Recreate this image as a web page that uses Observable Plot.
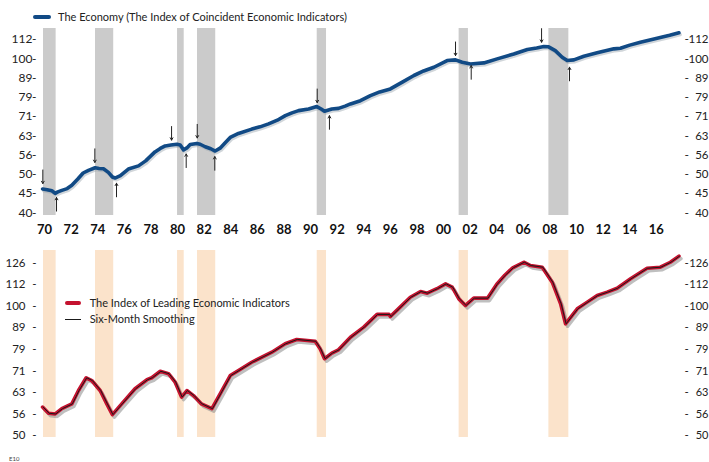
<!DOCTYPE html>
<html><head><meta charset="utf-8">
<script src="https://cdn.jsdelivr.net/npm/d3@7"></script>
<script src="https://cdn.jsdelivr.net/npm/@observablehq/plot@0.6"></script>
<style>
body{margin:0;background:#fff;}
#wrap{position:relative;width:709px;height:462px;overflow:hidden;font-family:Lato,"Open Sans",sans-serif;}
#wrap svg{position:absolute;left:0;}
.leg{position:absolute;font-size:11px;color:#222;white-space:nowrap;line-height:14px;}
.sw{position:absolute;}
</style></head><body><div id="wrap"></div>
<script>
// Recessions (start/end, decimal years)
const recStart = [1969.92, 1973.83, 1980.0, 1981.5, 1990.5, 2001.17, 2007.92];
const recEnd   = [1970.87, 1975.2, 1980.5, 1982.87, 1991.2, 2001.87, 2009.42];

// Coincident index
const coinYears = [1969.85,1970.2,1970.55,1970.8,1971.0,1971.3,1971.7,1972.05,1972.5,1972.9,1973.3,1973.8,1974.1,1974.43,1974.8,1975.1,1975.3,1975.7,1976.0,1976.3,1977.06,1977.6,1978.3,1978.7,1979.07,1979.5,1979.95,1980.2,1980.45,1980.7,1980.95,1981.45,1981.7,1982.08,1982.5,1982.83,1983.2,1983.6,1983.96,1984.58,1985.58,1986.2,1986.84,1987.5,1988.1,1988.6,1989.1,1989.85,1990.47,1990.8,1991.05,1991.6,1992.1,1992.6,1993.0,1993.75,1994.5,1995.2,1996.0,1996.9,1997.77,1998.5,1999.27,2000.27,2000.9,2001.4,2002.03,2003.03,2004.03,2005.28,2006.3,2007.0,2007.54,2007.9,2008.4,2008.92,2009.3,2009.8,2010.55,2011.55,2012.8,2013.3,2014.0,2014.8,2016.06,2017.0,2017.7];
const coinValues = [45.8,45.6,45.3,44.6,45.0,45.4,45.9,46.8,48.6,50.4,51.2,52.0,51.8,51.7,50.6,49.2,48.9,49.6,50.6,51.6,52.6,54.2,57.2,58.4,59.3,59.6,59.9,59.6,57.9,58.6,59.8,60.2,59.9,59.0,58.3,57.5,58.5,60.5,62.4,63.9,65.6,66.5,67.7,69.2,71.1,72.3,73.3,74.0,75.1,74.0,73.0,74.0,74.3,75.3,76.3,77.8,80.2,82.0,83.5,87.0,90.5,93.0,95.1,99.0,99.4,98.0,97.0,97.6,100.0,103.0,105.8,106.8,107.7,107.5,105.1,101.0,99.0,99.4,101.6,103.7,106.2,106.6,108.6,110.5,113.2,115.2,116.9];

// Leading index
const leadYears = [1969.85,1970.3,1970.8,1971.3,1972.05,1972.55,1973.13,1973.55,1974.18,1974.68,1975.1,1975.8,1976.8,1977.7,1978.06,1978.7,1979.32,1979.82,1980.3,1980.7,1981.2,1981.8,1982.58,1983.2,1983.96,1984.58,1985.58,1987.09,1988.09,1988.96,1990.35,1990.72,1991.05,1991.6,1992.1,1993.0,1994.0,1995.0,1995.9,1996.0,1996.6,1997.5,1998.27,1998.77,1999.5,2000.15,2000.65,2001.15,2001.65,2002.27,2003.3,2004.0,2004.6,2005.2,2006.03,2006.54,2007.42,2008.17,2008.8,2009.17,2010.05,2010.8,2011.55,2012.3,2013.05,2014.06,2015.3,2016.3,2017.05,2017.7];
const leadValues = [58.3,56.4,56.2,57.8,59.3,63.7,68.2,67.2,63.7,59.3,56.0,59.3,64.3,67.5,68.2,70.6,69.7,66.6,61.5,63.7,62.0,59.3,57.8,62.6,69.0,70.9,74.1,78.2,81.8,83.7,82.9,79.6,75.5,77.8,79.2,84.7,89.4,95.7,95.7,94.6,98.6,104.9,108.2,107.2,109.8,112.7,110.7,104.0,100.4,104.4,104.4,112.5,118.0,122.8,126.5,124.3,123.2,113.7,101.3,91.0,98.6,102.2,105.9,107.8,110.1,115.8,122.5,123.2,126.5,130.7];

// Peak (down arrow) and trough (up arrow) markers: year and value at arrow head
const peakYears = [1969.87, 1973.78, 1979.55, 1981.48, 1990.5, 2000.9, 2007.37];
const peakValues = [47.3, 53.7, 61.4, 62.2, 76.9, 102.0, 110.5];
const troughYears = [1970.9, 1975.41, 1980.65, 1982.8, 1991.42, 2002.08, 2009.47];
const troughValues = [43.5, 47.4, 56.5, 55.6, 71.1, 96.0, 95.1];

// Tick labels
const xTickYears = [1970,1972,1974,1976,1978,1980,1982,1984,1986,1988,1990,1992,1994,1996,1998,2000,2002,2004,2006,2008,2010,2012,2014,2016];
const xTickLabels = ["70","72","74","76","78","80","82","84","86","88","90","92","94","96","98","00","02","04","06","08","10","12","14","16"];
const topTickLabels = ["40","45","50","56","63","71","79","89","100","112"];
const bottomTickLabels = ["50","56","63","71","79","89","100","112","126"];

const coin = coinYears.map((x, i) => ({x, v: coinValues[i]}));
const lead = leadYears.map((x, i) => ({x, v: leadValues[i]}));
const recs = recStart.map((s, i) => ({s, e: recEnd[i]}));
const peaks = peakYears.map((x, i) => ({x, v: peakValues[i]}));
const troughs = troughYears.map((x, i) => ({x, v: troughValues[i]}));
const xTicks = xTickYears.map((x, i) => ({x, l: xTickLabels[i]}));
// tick positions: labels sit on steps of 2^(1/6) around 100
const topTicks = topTickLabels.map((l, i) => ({pos: 100 * Math.pow(2, (i - 8) / 6), l}));
const botTicks = bottomTickLabels.map((l, i) => ({pos: 100 * Math.pow(2, (i - 6) / 6), l}));

const W = 709;
const xDomain = [1969.695, 2017.966];
const font = "Lato, 'Open Sans', sans-serif";
const ARW = 1.085;

function yLabels(ticks, size, numPadL, numPadR) {
  return [
    Plot.text(ticks, {y: "pos", text: "l", frameAnchor: "left", dx: -numPadL, textAnchor: "end", fontSize: size, fill: "#222"}),
    Plot.text(ticks, {y: "pos", text: () => "-", frameAnchor: "left", dx: -4, textAnchor: "end", fontSize: size, fill: "#222"}),
    Plot.text(ticks, {y: "pos", text: () => "-", frameAnchor: "right", dx: 2, textAnchor: "start", fontSize: size, fill: "#222"}),
    Plot.text(ticks, {y: "pos", text: "l", frameAnchor: "right", dx: numPadR, textAnchor: "end", fontSize: size - 0.5, fill: "#222"})
  ];
}

const topPlot = Plot.plot({
  width: W, height: 245,
  marginTop: 28, marginBottom: 30, marginLeft: 40, marginRight: 27,
  style: {fontFamily: font, fontSize: "12px", color: "#222", background: "transparent", overflow: "visible"},
  x: {domain: xDomain, axis: null},
  y: {type: "log", domain: [39.05, 120], axis: null},
  marks: [
    Plot.rect(recs, {x1: "s", x2: "e", fill: "#cbcbcb"}),
    Plot.line(coin, {x: "x", y: "v", stroke: "#9aa3ad", strokeOpacity: 0.45, strokeWidth: 3.5, dx: 1.2, dy: 1.8}),
    Plot.line(coin, {x: "x", y: "v", stroke: "#114a85", strokeWidth: 3.6, strokeLinejoin: "round", strokeLinecap: "round"}),
    Plot.arrow(peaks, {x: "x", y1: d => d.v * ARW, y2: "v", stroke: "#222", strokeWidth: 1, headLength: 4}),
    Plot.arrow(troughs, {x: "x", y1: d => d.v / ARW, y2: "v", stroke: "#222", strokeWidth: 1, headLength: 4}),
    Plot.text(xTicks, {x: "x", text: "l", frameAnchor: "bottom", dy: 18, fontWeight: "bold", fontSize: 13, fill: "#111"}),
    ...yLabels(topTicks, 12, 8, 26)
  ]
});
topPlot.style.top = "0px";

const botPlot = Plot.plot({
  width: W, height: 222,
  marginTop: 10, marginBottom: 25, marginLeft: 40, marginRight: 27,
  style: {fontFamily: font, fontSize: "11px", color: "#222", background: "transparent", overflow: "visible"},
  x: {domain: xDomain, axis: null},
  y: {type: "log", domain: [49.55, 134.7], axis: null},
  marks: [
    Plot.rect(recs, {x1: "s", x2: "e", fill: "#fbe3cb"}),
    Plot.line(lead, {x: "x", y: "v", stroke: "#8a8a8a", strokeOpacity: 0.55, strokeWidth: 3.5, dx: 2, dy: 2.5}),
    Plot.line(lead, {x: "x", y: "v", stroke: "#c4122f", strokeWidth: 3.6, strokeLinejoin: "round", strokeLinecap: "round"}),
    Plot.line(lead, {x: "x", y: "v", stroke: "#1a1a1a", strokeWidth: 1, dx: 0.6}),
    ...yLabels(botTicks, 11.5, 15, 26)
  ]
});
botPlot.style.top = "240px";

const wrap = document.getElementById("wrap");
wrap.appendChild(topPlot);
wrap.appendChild(botPlot);

function swatch(x1, x2, yc, h, color, radius) {
  const d = document.createElement("div");
  d.className = "sw";
  Object.assign(d.style, {left: x1 + "px", width: (x2 - x1) + "px", top: (yc - h / 2) + "px", height: h + "px", background: color, borderRadius: radius + "px"});
  wrap.appendChild(d);
}
function label(x, yc, text, size) {
  const d = document.createElement("div");
  d.className = "leg";
  d.textContent = text;
  Object.assign(d.style, {left: x + "px", top: (yc - 7) + "px", fontSize: size + "px"});
  wrap.appendChild(d);
}
swatch(33, 51, 16.7, 4, "#114a85", 2);
label(58, 16.7, "The Economy (The Index of Coincident Economic Indicators)", 11);
swatch(65, 81, 303.3, 4, "#c4122f", 2);
label(89.7, 303.3, "The Index of Leading Economic Indicators", 11);
swatch(65, 81, 319.3, 1, "#1a1a1a", 0);
label(89.7, 319.3, "Six-Month Smoothing", 11);
const e = document.createElement("div");
Object.assign(e.style, {position: "absolute", left: "9px", top: "455px", fontSize: "6px", color: "#444"});
e.textContent = "E10";
wrap.appendChild(e);
</script></body></html>
